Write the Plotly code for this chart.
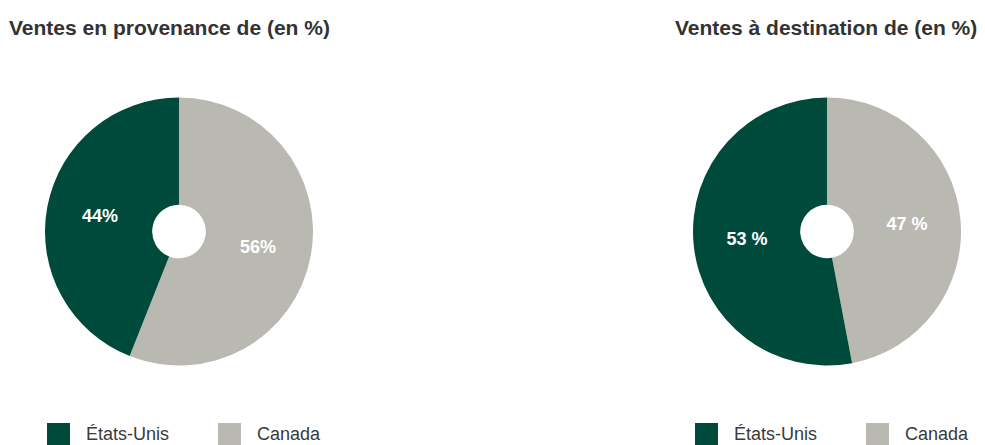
import plotly.graph_objects as go

categories = ["États-Unis", "Canada"]
provenance_values = [44, 56]
provenance_text = ["44%", "56%"]
destination_values = [53, 47]
destination_text = ["53 %", "47 %"]
titles = ["Ventes en provenance de (en %)", "Ventes à destination de (en %)"]
colors = ["#004A3B", "#B9B9B1"]

W, H = 985, 445
OX, OY = 8, 8  # page body margin
FONT = "Liberation Sans, Arial, sans-serif"

def px(x):
    return (x - OX) / W

def py(y):
    return 1 - (y - OY) / H

def dom(cx, cy, r):
    return dict(x=[px(cx - r), px(cx + r)], y=[py(cy + r), py(cy - r)])

fig = go.Figure()
for vals, txt, (cx, cy) in [(provenance_values, provenance_text, (179, 231.5)),
                            (destination_values, destination_text, (827, 231.5))]:
    # drawn clockwise from 12 o'clock, Canada first so États-Unis sits on the left
    fig.add_trace(go.Pie(
        labels=categories[::-1], values=vals[::-1], text=txt[::-1],
        texttemplate="%{text}", textposition="inside", insidetextorientation="horizontal",
        hole=0.2, sort=False, direction="clockwise", rotation=0,
        marker=dict(colors=colors[::-1], line=dict(width=0)),
        textfont=dict(family=FONT, size=18, color="white", weight="bold"),
        domain=dom(cx, cy, 134), showlegend=False, hoverinfo="label+text",
    ))

annotations = []
shapes = []
for t, x0 in zip(titles, [8, 674]):
    annotations.append(dict(text=f"<b>{t}</b>", x=px(x0), y=py(27), xref="paper", yref="paper",
                            xanchor="left", yanchor="middle", showarrow=False, borderpad=0,
                            font=dict(family=FONT, size=21, color="#333333")))

# legends (one under each pie)
for lx in [47, 695]:
    offsets = [0, 171]
    for cat, col, off in zip(categories, colors, offsets):
        sx = lx + off
        shapes.append(dict(type="rect", xref="paper", yref="paper",
                           x0=px(sx), x1=px(sx + 23), y0=py(447), y1=py(423),
                           fillcolor=col, line=dict(width=0)))
        annotations.append(dict(text=cat, x=px(sx + 38), y=py(445), xref="paper", yref="paper",
                                xanchor="left", yanchor="bottom", showarrow=False, borderpad=0,
                                font=dict(family=FONT, size=18, color="#3a3a3a")))

fig.update_layout(
    width=W, height=H, margin=dict(l=0, r=0, t=0, b=0),
    paper_bgcolor="white", plot_bgcolor="white",
    annotations=annotations, shapes=shapes,
)
fig.write_html("out.html")
